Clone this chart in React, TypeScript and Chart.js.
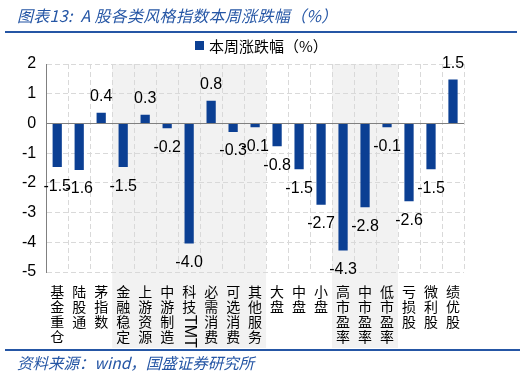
import React, { useEffect, useRef } from "react";
import { Chart, registerables } from "chart.js";
Chart.register(...registerables);

const categories = ["基金重仓","陆股通","茅指数","金融稳定","上游资源","中游制造","科技TMT","必需消费","可选消费","其他服务","大盘","中盘","小盘","高市盈率","中市盈率","低市盈率","亏损股","微利股","绩优股"];
const weeklyChange = [-1.47,-1.57,0.36,-1.47,0.29,-0.16,-4.04,0.76,-0.29,-0.13,-0.77,-1.54,-2.74,-4.28,-2.82,-0.13,-2.62,-1.54,1.48];
const yTicks = [2,1,0,-1,-2,-3,-4,-5];
const shadedGroups = [[3,9],[13,15]];
const seriesName = "本周涨跌幅（%）";
const titleText = "图表13:  A 股各类风格指数本周涨跌幅（%）";
const sourceText = "资料来源：wind，国盛证券研究所";

const BAR = "#0B3F93";
const BLUE = "#2556A5";
const NUMFONT = "'Liberation Sans', Arial, sans-serif";
const CJK = "'Noto Sans CJK SC', sans-serif";

function labelLines(c: string): string[] {
  if (c.endsWith("TMT")) return ["科", "技", "", ""];
  return c.split("");
}

export default function App() {
  const ref = useRef<HTMLCanvasElement>(null);
  useEffect(() => {
    if (!ref.current) return;
    const shadePlugin = {
      id: "shade",
      beforeDraw(chart: any) {
        const { ctx, chartArea, scales } = chart;
        const x = scales.x;
        const w = (chartArea.right - chartArea.left) / categories.length;
        ctx.save();
        ctx.fillStyle = "#F2F2F2";
        for (const [a, b] of shadedGroups) {
          const l = x.getPixelForValue(a) - w / 2;
          const r = x.getPixelForValue(b) + w / 2;
          ctx.fillRect(l, chartArea.top, r - l, 348 - chartArea.top);
        }
        ctx.restore();
      },
    };
    const labelPlugin = {
      id: "vals",
      afterDatasetsDraw(chart: any) {
        const { ctx, scales } = chart;
        const meta = chart.getDatasetMeta(0);
        ctx.save();
        ctx.font = `16px ${NUMFONT}`;
        ctx.fillStyle = "#000";
        ctx.textAlign = "center";
        meta.data.forEach((bar: any, i: number) => {
          const v = weeklyChange[i];
          const t = v.toFixed(1);
          if (v >= 0) {
            ctx.textBaseline = "bottom";
            ctx.fillText(t, bar.x, bar.y - 8);
          } else {
            ctx.textBaseline = "top";
            ctx.fillText(t, bar.x, bar.y + 11);
          }
        });
        const idx = categories.findIndex((c) => c.endsWith("TMT"));
        const px = scales.x.getPixelForValue(idx);
        ctx.translate(px, 315);
        ctx.rotate(Math.PI / 2);
        ctx.font = `16px ${NUMFONT}`;
        ctx.textAlign = "left";
        ctx.textBaseline = "middle";
        ctx.fillText("TMT", 0, 0);
        ctx.restore();
      },
    };
    const chart = new Chart(ref.current, {
      type: "bar",
      data: {
        labels: categories.map(labelLines),
        datasets: [
          {
            label: seriesName,
            data: weeklyChange,
            backgroundColor: BAR,
            barPercentage: 0.42,
            categoryPercentage: 1,
          },
        ],
      },
      options: {
        animation: false,
        responsive: false,
        maintainAspectRatio: false,
        layout: { padding: { top: 64, left: 12, right: 61, bottom: 19 } },
        plugins: { legend: { display: false }, tooltip: { enabled: false } },
        scales: {
          x: {
            grid: { color: "#D9D9D9", drawTicks: false, offset: true },
            border: { display: false, dash: [5, 3] },
            ticks: {
              color: "#000",
              font: { family: CJK, size: 14, lineHeight: 15 / 14 },
              padding: 12,
              maxRotation: 0,
              autoSkip: false,
            },
          },
          y: {
            min: -5,
            max: 2,
            afterBuildTicks(scale: any) {
              scale.ticks = yTicks.map((v) => ({ value: v }));
            },
            grid: {
              color: (c: any) => (c.tick && c.tick.value === 0 ? "#808080" : "#D9D9D9"),
              drawTicks: false,
            },
            border: {
              display: true,
              color: "#808080",
              dash: (c: any) => (c.tick && c.tick.value === 0 ? [] : [5, 3]),
            },
            ticks: {
              color: "#000",
              font: { family: NUMFONT, size: 16 },
              padding: 10,
            },
          },
        },
      },
      plugins: [shadePlugin, labelPlugin],
    });
    return () => chart.destroy();
  }, []);

  return (
    <div style={{ position: "absolute", left: 0, top: 0, width: 525, height: 375, background: "#fff", overflow: "hidden" }}>
      <canvas ref={ref} width={525} height={375} style={{ position: "absolute", left: 0, top: 0, width: 525, height: 375 }} />
      <div style={{ position: "absolute", left: 17, top: 5, fontFamily: CJK, fontStyle: "italic", fontSize: 16, color: BLUE, whiteSpace: "pre", lineHeight: "20px", letterSpacing: 0.3 }}>{titleText}</div>
      <div style={{ position: "absolute", left: 5, top: 31, width: 512, height: 2, background: BLUE }} />
      <div style={{ position: "absolute", left: 195, top: 41, width: 9, height: 9, background: BAR }} />
      <div style={{ position: "absolute", left: 209, top: 36, fontFamily: CJK, fontSize: 15, color: "#000", lineHeight: "20px", whiteSpace: "pre" }}>{seriesName}</div>
      <div style={{ position: "absolute", left: 5, top: 349, width: 515, height: 2, background: BLUE }} />
      <div style={{ position: "absolute", left: 17, top: 352, fontFamily: CJK, fontStyle: "italic", fontSize: 15.5, color: BLUE, whiteSpace: "pre", lineHeight: "20px" }}>{sourceText}</div>
    </div>
  );
}
